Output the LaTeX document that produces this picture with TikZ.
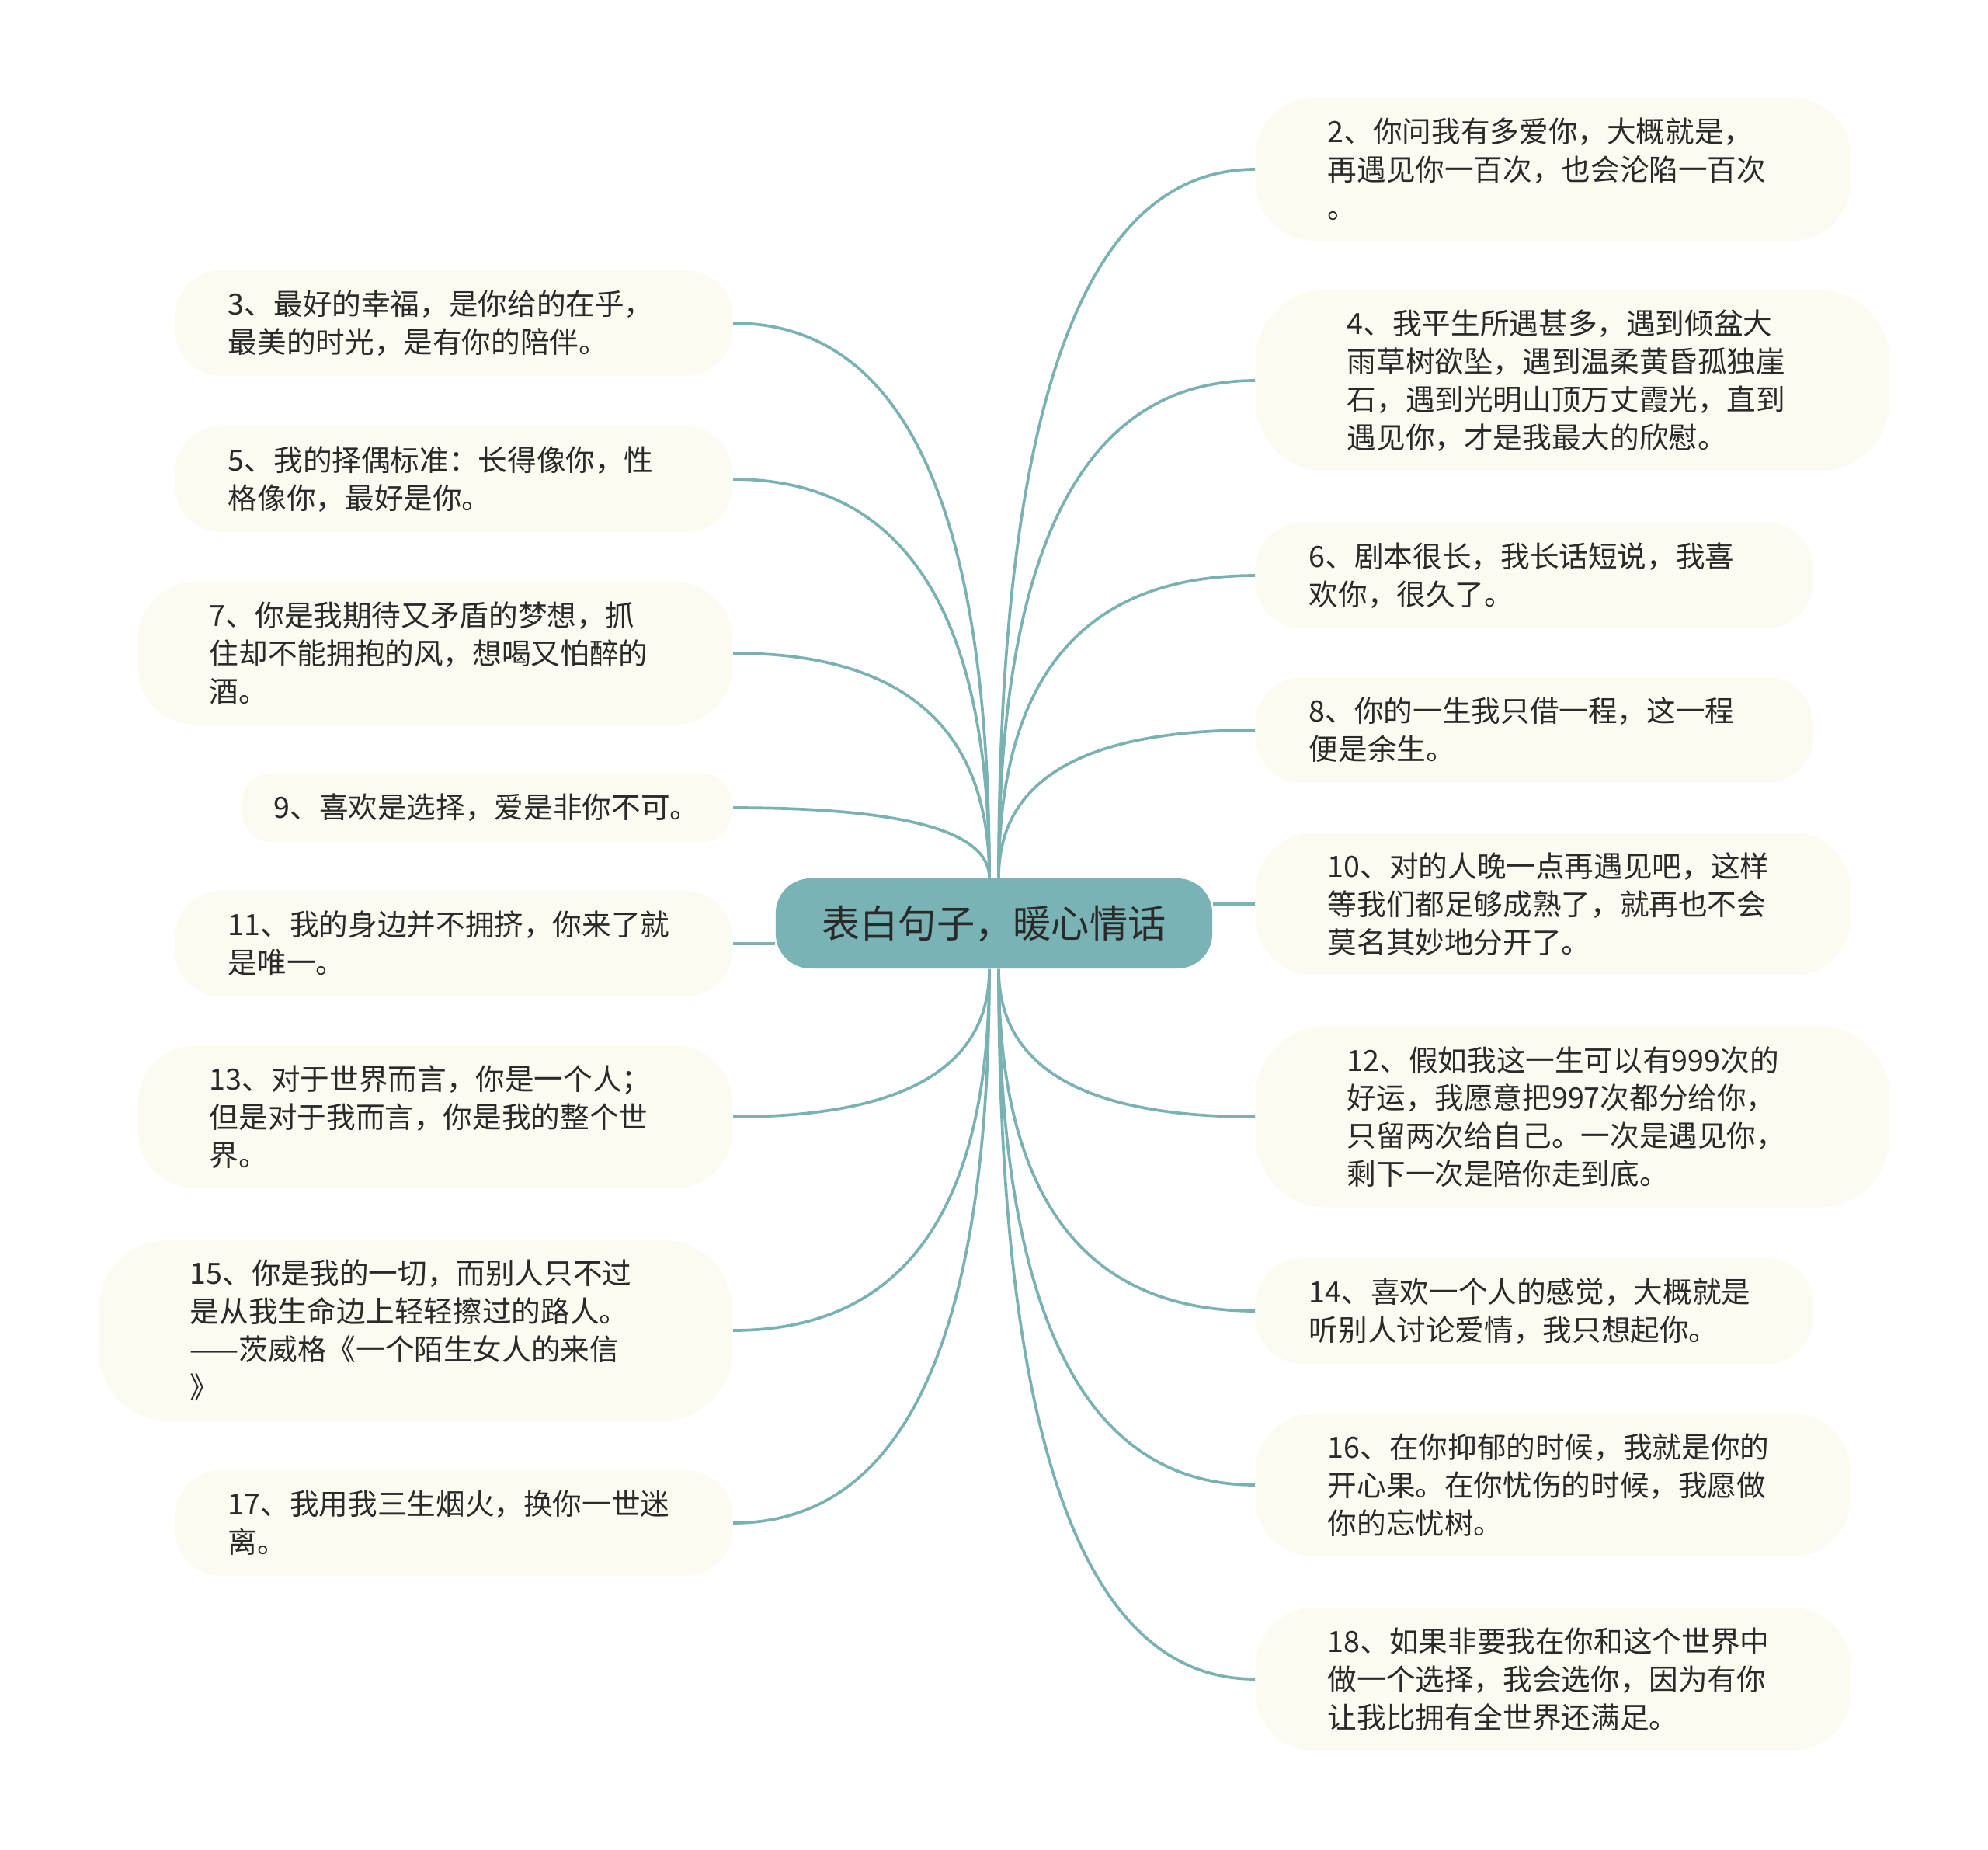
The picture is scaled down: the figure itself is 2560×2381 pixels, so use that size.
\documentclass[tikz,border=0pt]{standalone}
\usepackage{fontspec}
\setmainfont{Noto Sans CJK SC}
\usetikzlibrary{calc}
\definecolor{zhuti}{HTML}{7AB3B5}
\definecolor{xian}{HTML}{7AB2B4}
\definecolor{mi}{HTML}{FCFBF1}
\definecolor{zi}{HTML}{2A2A2A}
\tikzset{
	zhongxin/.style={fill=zhuti, text=zi, rounded corners=0.45cm, minimum width=5.62cm, minimum height=1.16cm, font=\fontsize{14pt}{17pt}\selectfont},
	ye/.style={fill=mi, text=zi, align=left, inner ysep=0pt, font=\fontsize{10.7pt}{13.9pt}\selectfont},
	ye1/.style={ye, minimum height=0.88cm, inner xsep=0.43cm, rounded corners=0.4cm},
	ye2/.style={ye, text width=5.8cm, minimum height=1.36cm, inner xsep=0.69cm, rounded corners=0.6cm},
	ye3/.style={ye, text width=5.8cm, minimum height=1.84cm, inner xsep=0.93cm, rounded corners=0.75cm},
	ye4/.style={ye, text width=5.8cm, minimum height=2.33cm, inner xsep=1.18cm, rounded corners=0.9cm},
	lian/.style={draw=xian, line width=1.05pt}
}
\begin{document}
\begin{tikzpicture}[x=0.01cm, y=-0.01cm]
	\useasboundingbox (0,0) rectangle (2560,2381);
	%中心
	\node[zhongxin] (c) at (1280,1189) {表白句子，暖心情话};
	\coordinate (cnl) at ($(c.north)+(-6,0)$);
	\coordinate (cnr) at ($(c.north)+(6,0)$);
	\coordinate (csl) at ($(c.south)+(-6,0)$);
	\coordinate (csr) at ($(c.south)+(6,0)$);
	%右边
	\node[ye3, anchor=west] (n2) at (1616,218) {2、你问我有多爱你，大概就是，\\再遇见你一百次，也会沦陷一百次\\。};
	\node[ye4, anchor=west] (n4) at (1616,490) {4、我平生所遇甚多，遇到倾盆大\\雨草树欲坠，遇到温柔黄昏孤独崖\\石，遇到光明山顶万丈霞光，直到\\遇见你，才是我最大的欣慰。};
	\node[ye2, anchor=west] (n6) at (1616,741) {6、剧本很长，我长话短说，我喜\\欢你，很久了。};
	\node[ye2, anchor=west] (n8) at (1616,940) {8、你的一生我只借一程，这一程\\便是余生。};
	\node[ye3, anchor=west] (n10) at (1616,1164) {10、对的人晚一点再遇见吧，这样\\等我们都足够成熟了，就再也不会\\莫名其妙地分开了。};
	\node[ye4, anchor=west] (n12) at (1616,1438) {12、假如我这一生可以有999次的\\好运，我愿意把997次都分给你，\\只留两次给自己。一次是遇见你，\\剩下一次是陪你走到底。};
	\node[ye2, anchor=west] (n14) at (1616,1688) {14、喜欢一个人的感觉，大概就是\\听别人讨论爱情，我只想起你。};
	\node[ye3, anchor=west] (n16) at (1616,1912) {16、在你抑郁的时候，我就是你的\\开心果。在你忧伤的时候，我愿做\\你的忘忧树。};
	\node[ye3, anchor=west] (n18) at (1616,2162) {18、如果非要我在你和这个世界中\\做一个选择，我会选你，因为有你\\让我比拥有全世界还满足。};
	%左边
	\node[ye2, anchor=east] (n3) at (944,416) {3、最好的幸福，是你给的在乎，\\最美的时光，是有你的陪伴。};
	\node[ye2, anchor=east] (n5) at (944,617) {5、我的择偶标准：长得像你，性\\格像你，最好是你。};
	\node[ye3, anchor=east] (n7) at (944,841) {7、你是我期待又矛盾的梦想，抓\\住却不能拥抱的风，想喝又怕醉的\\酒。};
	\node[ye1, anchor=east] (n9) at (944,1040) {9、喜欢是选择，爱是非你不可。};
	\node[ye2, anchor=east] (n11) at (944,1215) {11、我的身边并不拥挤，你来了就\\是唯一。};
	\node[ye3, anchor=east] (n13) at (944,1438) {13、对于世界而言，你是一个人；\\但是对于我而言，你是我的整个世\\界。};
	\node[ye4, anchor=east] (n15) at (944,1713) {15、你是我的一切，而别人只不过\\是从我生命边上轻轻擦过的路人。\\——茨威格《一个陌生女人的来信\\》};
	\node[ye2, anchor=east] (n17) at (944,1961) {17、我用我三生烟火，换你一世迷\\离。};
	%连线
	\foreach \nd in {n2,n4,n6,n8}
		\draw[lian] (cnr) .. controls ($(cnr)!.667!(cnr |- \nd.west)$) and ($(\nd.west)!.667!(cnr |- \nd.west)$) .. (\nd.west);
	\foreach \nd in {n12,n14,n16,n18}
		\draw[lian] (csr) .. controls ($(csr)!.667!(csr |- \nd.west)$) and ($(\nd.west)!.667!(csr |- \nd.west)$) .. (\nd.west);
	\foreach \nd in {n3,n5,n7,n9}
		\draw[lian] (cnl) .. controls ($(cnl)!.667!(cnl |- \nd.east)$) and ($(\nd.east)!.667!(cnl |- \nd.east)$) .. (\nd.east);
	\foreach \nd in {n13,n15,n17}
		\draw[lian] (csl) .. controls ($(csl)!.667!(csl |- \nd.east)$) and ($(\nd.east)!.667!(csl |- \nd.east)$) .. (\nd.east);
	\draw[lian] (n10.west) -- (n10.west -| c.east);
	\draw[lian] (n11.east) -- (n11.east -| c.west);
\end{tikzpicture}
\end{document}
